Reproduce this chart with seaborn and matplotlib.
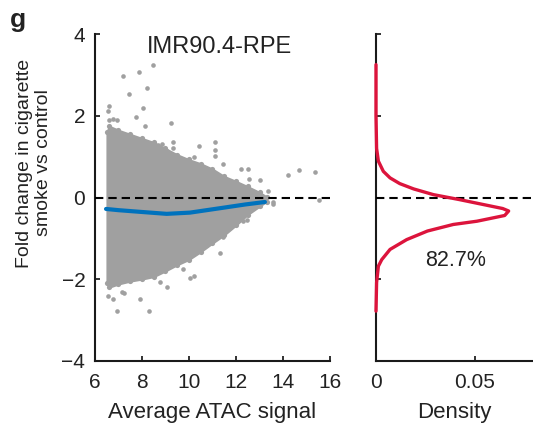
import matplotlib
matplotlib.use("Agg")
import matplotlib.pyplot as plt
import seaborn as sns
import pandas as pd

# ---------------- data ----------------
# dense core of the MA cloud: envelope per ATAC signal value
env_x = [6.5, 6.6, 7.0, 7.5, 8.0, 8.5, 9.0, 9.5, 10.0, 10.5, 11.0, 11.5, 12.0, 12.5, 13.0, 13.3]
env_hi = [1.6, 1.75, 1.65, 1.55, 1.45, 1.35, 1.2, 1.05, 0.93, 0.83, 0.7, 0.52, 0.4, 0.27, 0.13, 0.02]
env_lo = [-2.1, -2.2, -2.12, -2.05, -2.0, -1.94, -1.8, -1.65, -1.52, -1.33, -1.12, -0.92, -0.68, -0.42, -0.22, -0.1]

# individual scattered points outside the dense core
pts_x = [8.48, 7.87, 7.18, 8.2, 7.46, 8.03, 6.61, 6.54, 6.6, 6.78, 6.95, 7.74, 9.23, 8.13,
         11.1, 11.1, 11.1, 10.43, 10.2, 11.45, 12.2, 12.5, 12.55, 13.0, 14.23, 14.7, 15.36,
         15.53, 13.56, 13.36, 9.3, 9.3, 8.85, 9.06, 8.7,
         6.57, 6.78, 6.92, 8.31, 7.91, 9.08, 7.15, 7.25, 10.05, 10.2, 9.76, 8.77, 11.3,
         11.46, 12.3, 12.45, 13.56]
pts_y = [3.25, 3.06, 2.98, 2.68, 2.52, 2.19, 2.25, 2.11, 1.9, 1.92, 1.9, 1.96, 1.83, 1.74,
         1.35, 1.16, 1.01, 1.25, 1.0, 0.81, 0.7, 0.7, 0.46, 0.44, 0.55, 0.68, 0.62,
         -0.05, -0.12, 0.15, 1.35, 1.2, 1.3, 1.13, 1.28,
         -2.41, -2.49, -2.78, -2.78, -2.49, -2.19, -2.3, -2.33, -1.96, -1.93, -1.76, -2.07, -1.35,
         -0.96, -0.58, -0.55, -0.15]

# loess trend (blue)
trend_x = [6.47, 7.0, 7.9, 9.05, 10.04, 11.46, 12.4, 13.23]
trend_y = [-0.28, -0.31, -0.35, -0.40, -0.37, -0.25, -0.17, -0.11]

# density of fold change (red), ordered top to bottom
dens_y = [3.25, 2.0, 1.2, 0.89, 0.64, 0.48, 0.34, 0.21, 0.07, -0.05, -0.19, -0.27, -0.33,
          -0.44, -0.58, -0.66, -0.82, -1.03, -1.27, -1.52, -1.68, -2.08, -2.78]
dens_x = [0.0, 0.0, 0.0003, 0.0012, 0.0037, 0.0071, 0.012, 0.019, 0.029, 0.042, 0.056, 0.064, 0.067,
          0.065, 0.051, 0.039, 0.026, 0.0155, 0.0071, 0.0029, 0.0012, 0.0003, 0.0]

title_text = "IMR90.4-RPE"
pct_text = "82.7%"
x_ticks = [6, 8, 10, 12, 14, 16]
y_ticks = [-4, -2, 0, 2, 4]
d_ticks = [0, 0.05]
d_tick_labels = ["0", "0.05"]

# ---------------- style ----------------
sns.set_theme(style="ticks")
plt.rcParams["font.family"] = ["Liberation Sans", "DejaVu Sans"]
txt = "#222222"
plt.rcParams.update({
    "text.color": txt, "axes.labelcolor": txt, "xtick.color": txt, "ytick.color": txt,
    "axes.edgecolor": "#1a1a1a", "axes.linewidth": 1.5,
    "xtick.direction": "in", "ytick.direction": "in",
    "xtick.major.size": 3.5, "ytick.major.size": 3.5,
    "xtick.major.width": 1.3, "ytick.major.width": 1.3,
})

fig = plt.figure(figsize=(5.33, 4.30), dpi=100)
ax = fig.add_axes([95 / 533, 1 - 361 / 430, 235 / 533, 327 / 430])
axd = fig.add_axes([376 / 533, 1 - 361 / 430, 157 / 533, 327 / 430])

grey = "#a0a0a0"
dash = (0, (4, 2.4))
# dense cloud
ax.fill_between(env_x, env_lo, env_hi, color=grey, linewidth=1.2, edgecolor=grey, zorder=1)
edge_df = pd.DataFrame({"x": env_x + env_x, "y": env_hi + env_lo})
sns.scatterplot(data=edge_df, x="x", y="y", ax=ax, color=grey, s=14, linewidth=0, zorder=1, legend=False)
pts_df = pd.DataFrame({"x": pts_x, "y": pts_y})
sns.scatterplot(data=pts_df, x="x", y="y", ax=ax, color=grey, s=11, linewidth=0, zorder=2, legend=False)

ax.axhline(0, color="black", lw=1.5, ls=dash, zorder=3)
trend_df = pd.DataFrame({"x": trend_x, "y": trend_y})
sns.lineplot(data=trend_df, x="x", y="y", ax=ax, color="#0072BD", lw=3, zorder=4, legend=False)

ax.set_xlim(6, 16)
ax.set_ylim(-4, 4)
ax.set_xticks(x_ticks)
ax.set_yticks(y_ticks)
ax.tick_params(axis="x", labelsize=15, pad=9)
ax.tick_params(axis="y", labelsize=15, pad=7)
ax.set_xlabel("Average ATAC signal", fontsize=16, labelpad=7)
ax.set_ylabel("")
sns.despine(ax=ax)
ax.text(11.3, 3.67, title_text, fontsize=17, ha="center", va="center")

# density panel
dens_df = pd.DataFrame({"d": dens_x, "y": dens_y})
sns.lineplot(data=dens_df, x="d", y="y", ax=axd, sort=False, orient="y",
             color="#DC143C", lw=2.4, legend=False, zorder=4, clip_on=False)
axd.axhline(0, color="black", lw=1.5, ls=dash, zorder=3)
axd.set_xlim(0, 0.0793)
axd.set_ylim(-4, 4)
axd.set_xticks(d_ticks)
axd.set_xticklabels(d_tick_labels)
axd.set_yticks(y_ticks)
axd.set_yticklabels([])
axd.tick_params(axis="x", labelsize=15, pad=9)
axd.set_xlabel("Density", fontsize=16, labelpad=7)
axd.set_ylabel("")
sns.despine(ax=axd)
axd.text(0.040, -1.55, pct_text, fontsize=15.5, ha="center", va="center")

fig.text(34 / 533, 1 - 163 / 430, "Fold change in cigarette\nsmoke vs control",
         rotation=90, ha="center", va="center", fontsize=14, multialignment="center",
         linespacing=1.2)
fig.text(10 / 533, 1 - 8 / 430, "g", fontsize=19, fontweight="bold", ha="left", va="top")

fig.savefig("out.png", dpi=100)
